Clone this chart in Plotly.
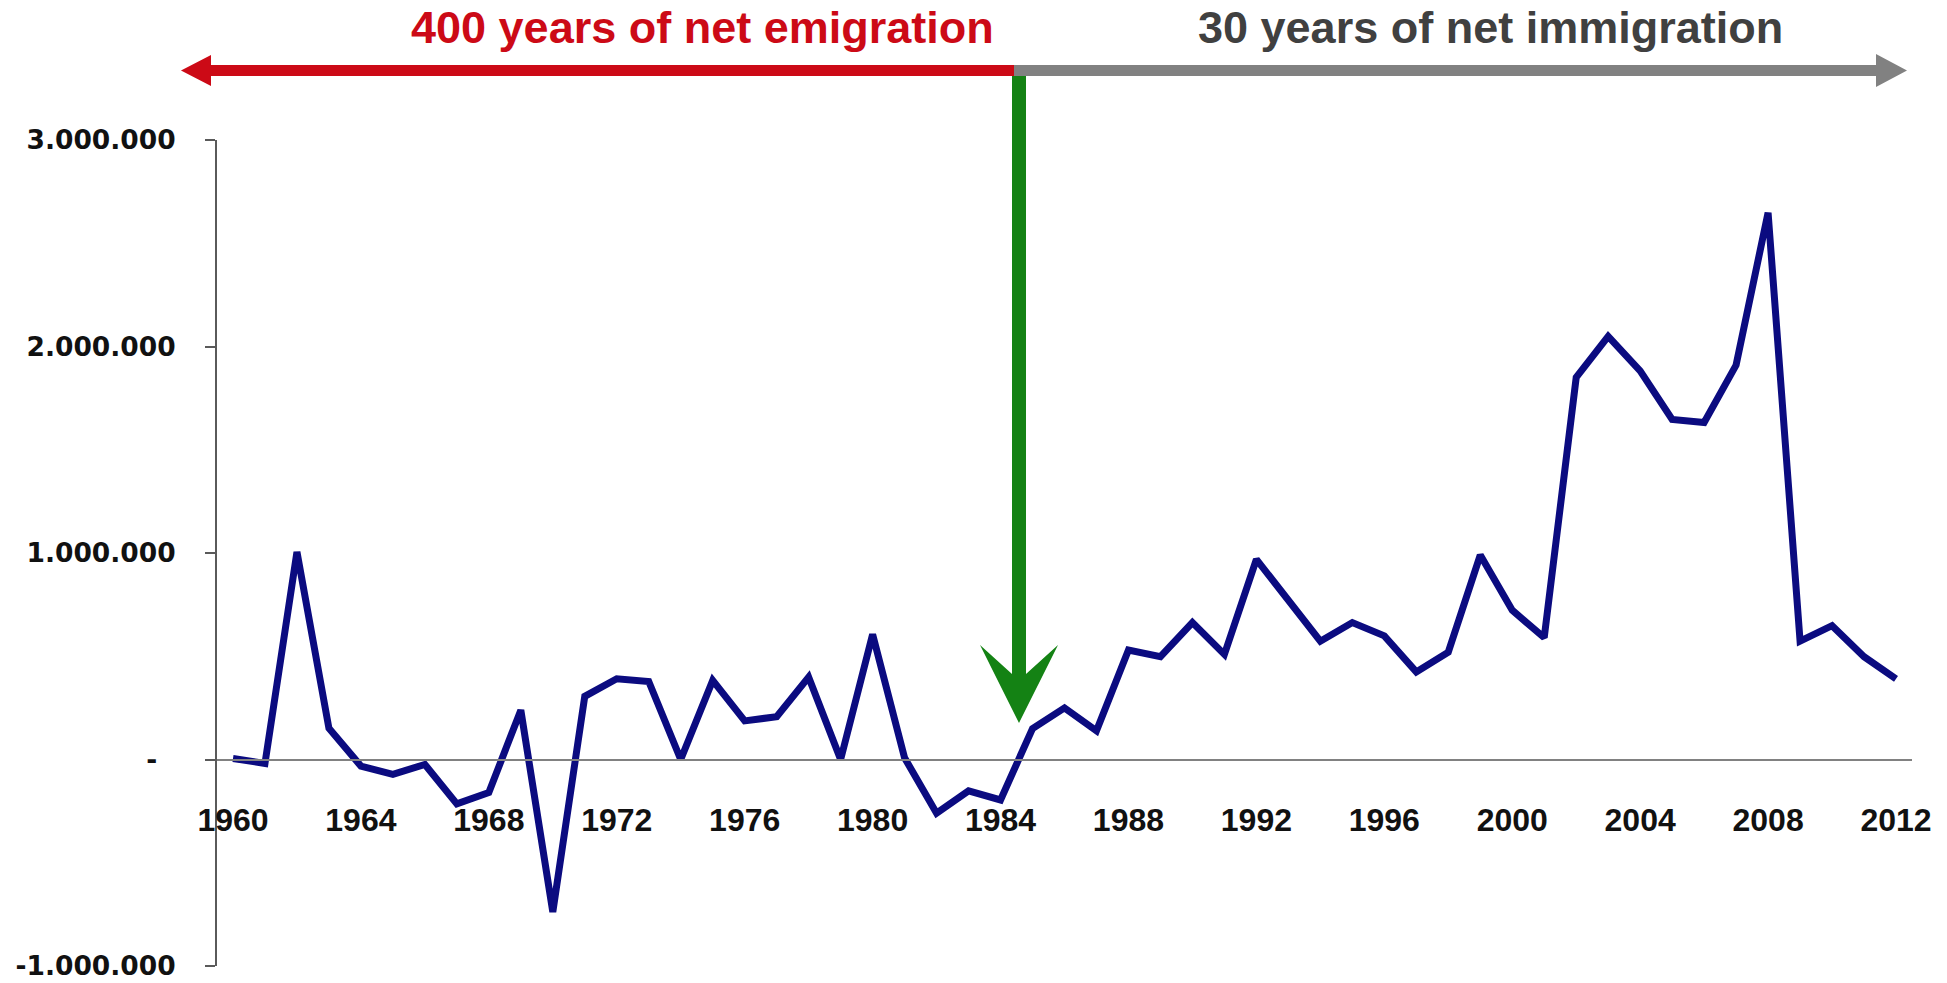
"""Net migration 1960-2012 with emigration / immigration arrows."""
import plotly.graph_objects as go

years = list(range(1960, 2013))
net_migration = [
    5000, -19000, 1005000, 151000, -32000, -72000, -24000, -215000,
    -160000, 239000, -738000, 306000, 391000, 378000, 0, 383000,
    187000, 207000, 399000, 0, 606000, 8000, -260000, -152000,
    -196000, 150000, 250000, 139000, 530000, 498000, 663000, 509000,
    969000, 776000, 573000, 663000, 599000, 424000, 520000, 990000,
    723000, 590000, 1850000, 2049000, 1882000, 1647000, 1632000, 1910000,
    2648000, 573000, 648000, 498000, 391000,
]
y_tickvals = [-1000000, 0, 1000000, 2000000, 3000000]
y_ticktext = ["-1.000.000", "-\u00a0\u00a0", "1.000.000", "2.000.000", "3.000.000"]
left_label = "400 years of net emigration"
right_label = "30 years of net immigration"

# page geometry in window pixels (body margin is removed below)
FIG_W, FIG_H = 1947, 983
PLOT_X0, PLOT_X1 = 217, 1912
PLOT_Y0, PLOT_Y1 = 140, 966
L, T = PLOT_X0, PLOT_Y0
R, B = FIG_W - PLOT_X1, FIG_H - PLOT_Y1
PW, PH = PLOT_X1 - PLOT_X0, PLOT_Y1 - PLOT_Y0

NAVY = "#0b0b80"
RED = "#cc0a16"
GREY = "#818181"
GREEN = "#148214"
AXIS = "#5a5a5a"
LABEL_FONT = "Liberation Sans, Arial"


def px(x):
    return (x - PLOT_X0) / PW


def py(y):
    return (PLOT_Y1 - y) / PH


def poly(points):
    return "M " + " L ".join(f"{px(x):.5f},{py(y):.5f}" for x, y in points) + " Z"


fig = go.Figure()
fig.add_trace(go.Scatter(
    x=years, y=net_migration, mode="lines",
    line=dict(color=NAVY, width=7),
    hoverinfo="skip",
))

# top arrows + green pointer
shapes = [
    dict(type="path", xref="paper", yref="paper", fillcolor=GREEN,
         line=dict(width=0), layer="above",
         path=poly([(1012, 70), (1026, 70), (1026, 674), (1058, 645),
                    (1019, 723), (980, 645), (1012, 674)])),
    dict(type="path", xref="paper", yref="paper", fillcolor=RED,
         line=dict(width=0), layer="above",
         path=poly([(181, 70.5), (211, 55), (211, 65), (1014, 65),
                    (1014, 76), (211, 76), (211, 86)])),
    dict(type="path", xref="paper", yref="paper", fillcolor=GREY,
         line=dict(width=0), layer="above",
         path=poly([(1014, 65), (1876, 65), (1876, 54), (1907, 70.5),
                    (1876, 87), (1876, 76), (1014, 76)])),
]

annotations = [
    dict(text=left_label, x=px(702), y=py(28), xref="paper", yref="paper",
         xanchor="center", yanchor="middle", showarrow=False,
         font=dict(family=LABEL_FONT, size=45, color=RED, weight="bold")),
    dict(text=right_label, x=px(1490), y=py(28), xref="paper", yref="paper",
         xanchor="center", yanchor="middle", showarrow=False,
         font=dict(family=LABEL_FONT, size=45, color="#404040", weight="bold")),
]

fig.update_layout(
    width=FIG_W, height=FIG_H,
    margin=dict(l=L, r=R, t=T, b=B),
    paper_bgcolor="white", plot_bgcolor="white",
    showlegend=False,
    shapes=shapes, annotations=annotations,
)
fig.update_xaxes(
    range=[1959.5, 2012.5], tickmode="linear", tick0=1960, dtick=4,
    anchor="free", position=0.25,
    showline=True, linecolor=GREY, linewidth=2,
    ticks="", showgrid=False, zeroline=False, automargin=False,
    ticklabelstandoff=32,
    tickfont=dict(family=LABEL_FONT, size=32, color="#111111", weight="bold"),
)
fig.update_yaxes(
    range=[-1000000, 3000000], tickvals=y_tickvals, ticktext=y_ticktext,
    showline=True, linecolor=AXIS, linewidth=2,
    ticks="outside", ticklen=10, tickwidth=1.5, tickcolor=AXIS,
    showgrid=False, zeroline=False, automargin=False,
    ticklabelstandoff=24, ticklabeloverflow="allow",
    tickfont=dict(family="DejaVu Sans", size=26.5, color="#111111", weight="bold"),
)

fig.write_html(
    "out.html",
    config={"displayModeBar": False},
    post_script="document.body.style.margin = '0';",
)
